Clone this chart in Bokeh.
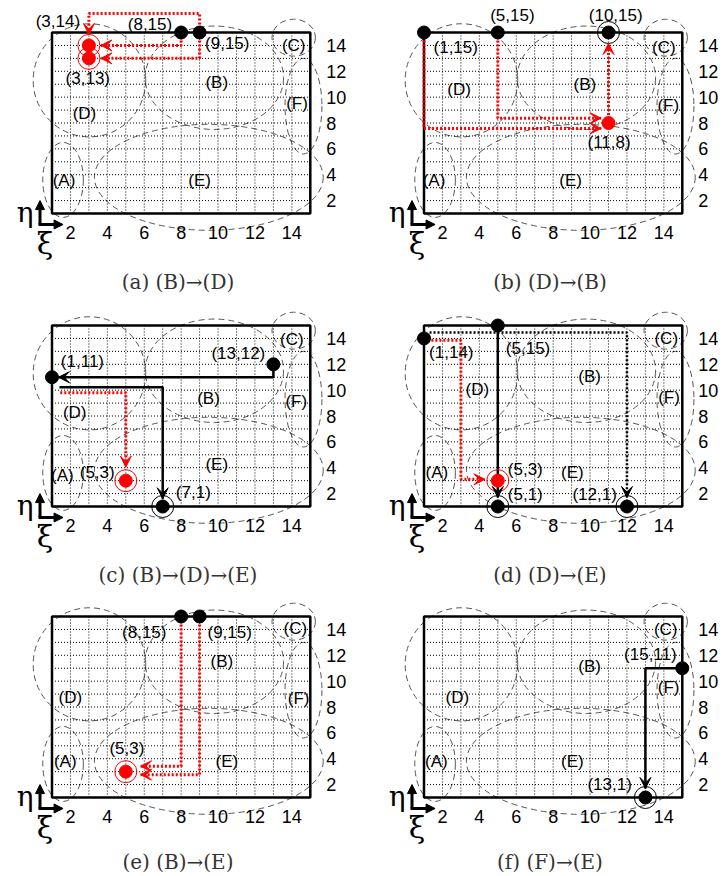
from bokeh.plotting import figure
from bokeh.layouts import column, row
from bokeh.models import Range1d, LinearAxis, FixedTicker, Arrow, VeeHead, NormalHead
from bokeh.core.properties import value
from bokeh.embed import file_html
from bokeh.resources import INLINE

# ---------------- shared data ----------------
BOX = [1, 15]
GRID = list(range(2, 15))
TICKS = [2, 4, 6, 8, 10, 12, 14]

REGION_NAMES = ["(A)", "(B)", "(C)", "(D)", "(E)", "(F)"]
REGION_CX = [1.6, 9.8, 14.1, 3.03, 9.5, 14.63]
REGION_CY = [3.6, 11.5, 14.6, 11.3, 3.8, 9.3]
REGION_W = [2.2, 7.5, 2.35, 6.1, 12.4, 2.0]
REGION_H = [5.8, 8.0, 2.85, 8.75, 8.2, 7.4]

# coordinate indicator (eta up, xi right)
IND_X0 = 0.35
IND_Y0 = 0.15
IND_XEND = 1.6
IND_YEND = 2.0
ETA_X, ETA_Y = -0.45, 1.1
XI_X, XI_Y = 0.62, -1.3

# ---------------- panel (a) ----------------
PA_CAPTION = "(a)  (B)\u2192(D)"
PA_BLACK_X = [8, 9]
PA_BLACK_Y = [15, 15]
PA_BRING_X = []
PA_BRING_Y = []
PA_RED_X = [3, 3]
PA_RED_Y = [14, 13]
PA_RRING_X = [3, 3]
PA_RRING_Y = [14, 13]
PA_LABEL = ["(3,14)", "(8,15)", "(9,15)", "(3,13)"]
PA_LABEL_X = [1.32, 6.31, 10.5, 2.94]
PA_LABEL_Y = [15.85, 15.64, 14.15, 11.48]
PA_REG_X = [1.65, 9.93, 14.1, 2.76, 9.0, 14.28]
PA_REG_Y = [3.57, 11.15, 13.97, 8.76, 3.57, 9.48]
PA_PATH_X = [[9, 9, 3, 3], [8, 8, 3.65], [9, 9, 3.65]]
PA_PATH_Y = [[15, 16.47, 16.47, 14.85], [15, 14, 14], [15, 13, 13]]
PA_PATH_S = ["red", "red", "red"]

# ---------------- panel (b) ----------------
PB_CAPTION = "(b)  (D)\u2192(B)"
PB_BLACK_X = [1, 5, 11]
PB_BLACK_Y = [15, 15, 15]
PB_BRING_X = [11]
PB_BRING_Y = [15]
PB_RED_X = [11]
PB_RED_Y = [8]
PB_RRING_X = []
PB_RRING_Y = []
PB_LABEL = ["(1,15)", "(5,15)", "(10,15)", "(11,8)"]
PB_LABEL_X = [2.72, 5.79, 11.39, 11.03]
PB_LABEL_Y = [13.84, 16.29, 16.29, 6.49]
PB_REG_X = [1.54, 9.72, 14.0, 2.9, 8.95, 14.24]
PB_REG_Y = [3.53, 11.0, 13.84, 10.6, 3.53, 9.33]
PB_PATH_X = [[1, 1, 10.6], [5, 5, 10.6], [11, 11]]
PB_PATH_Y = [[15, 7.58, 7.58], [15, 8.37, 8.37], [8, 14.15]]
PB_PATH_S = ["red", "red", "red"]

# ---------------- panel (c) ----------------
PC_CAPTION = "(c)  (B)\u2192(D)\u2192(E)"
PC_BLACK_X = [13, 1, 7]
PC_BLACK_Y = [12, 11, 1]
PC_BRING_X = [7]
PC_BRING_Y = [1]
PC_RED_X = [5]
PC_RED_Y = [3]
PC_RRING_X = [5]
PC_RRING_Y = [3]
PC_LABEL = ["(1,11)", "(13,12)", "(5,3)", "(7,1)"]
PC_LABEL_X = [2.65, 11.1, 3.45, 8.66]
PC_LABEL_Y = [12.24, 12.86, 3.66, 2.06]
PC_REG_X = [1.56, 9.48, 14.0, 2.23, 9.93, 14.24]
PC_REG_Y = [3.4, 9.38, 13.89, 8.3, 4.22, 9.12]
PC_PATH_X = [[13, 13, 1.35], [1.4, 7, 7], [1.45, 5, 5]]
PC_PATH_Y = [[12, 11, 11], [10.23, 10.23, 1.6], [9.8, 9.8, 4.05]]
PC_PATH_S = ["black", "black", "red"]

# ---------------- panel (d) ----------------
PD_CAPTION = "(d)  (D)\u2192(E)"
PD_BLACK_X = [1, 5, 5, 12]
PD_BLACK_Y = [14, 15, 1, 1]
PD_BRING_X = [5, 12]
PD_BRING_Y = [1, 1]
PD_RED_X = [5]
PD_RED_Y = [3]
PD_RRING_X = [5]
PD_RRING_Y = [3]
PD_LABEL = ["(1,14)", "(5,15)", "(5,3)", "(5,1)", "(12,1)"]
PD_LABEL_X = [2.48, 6.64, 6.49, 6.49, 10.25]
PD_LABEL_Y = [12.89, 13.2, 3.88, 1.9, 1.9]
PD_REG_X = [1.7, 9.98, 14.13, 3.89, 9.04, 14.28]
PD_REG_Y = [3.63, 11.04, 13.97, 10.06, 3.63, 9.42]
PD_PATH_X = [[5, 5], [1.3, 12, 12], [1.4, 3, 3, 4.3]]
PD_PATH_Y = [[15, 1.7], [14.45, 14.45, 1.7], [13.85, 13.85, 3.1, 3.1]]
PD_PATH_S = ["black", "blackdot", "red"]

# ---------------- panel (e) ----------------
PE_CAPTION = "(e)  (B)\u2192(E)"
PE_BLACK_X = [8, 9]
PE_BLACK_Y = [15, 15]
PE_BRING_X = []
PE_BRING_Y = []
PE_RED_X = [5]
PE_RED_Y = [3]
PE_RRING_X = [5]
PE_RRING_Y = [3]
PE_LABEL = ["(8,15)", "(9,15)", "(5,3)"]
PE_LABEL_X = [6.0, 10.63, 5.06]
PE_LABEL_Y = [13.77, 13.77, 4.78]
PE_REG_X = [1.72, 10.21, 14.19, 1.99, 10.48, 14.37]
PE_REG_Y = [3.75, 11.53, 14.08, 8.76, 3.75, 8.63]
PE_PATH_X = [[8, 8, 5.8], [9, 9, 5.8]]
PE_PATH_Y = [[15, 3.42, 3.42], [15, 2.77, 2.77]]
PE_PATH_S = ["red", "red"]

# ---------------- panel (f) ----------------
PF_CAPTION = "(f)  (F)\u2192(E)"
PF_BLACK_X = [15, 13]
PF_BLACK_Y = [11, 1]
PF_BRING_X = [13]
PF_BRING_Y = [1]
PF_RED_X = []
PF_RED_Y = []
PF_RRING_X = []
PF_RRING_Y = []
PF_LABEL = ["(15,11)", "(13,1)"]
PF_LABEL_X = [13.27, 11.06]
PF_LABEL_Y = [12.04, 2.03]
PF_REG_X = [1.67, 9.98, 14.1, 2.81, 9.04, 14.26]
PF_REG_Y = [3.75, 11.17, 14.0, 8.77, 3.75, 9.54]
PF_PATH_X = [[15, 13, 13]]
PF_PATH_Y = [[11, 11, 1.7]]
PF_PATH_S = ["black"]

# ---------------- layout constants ----------------
XS = 18.45          # px per unit (x)
YS = 12.93          # px per unit (y)
FIG_W = [362, 362]  # left / right column widths
BOX_LEFT_PX = [51.5, 61.5]
ROW_H = [293, 293, 290]
BOX_TOP_PX = [32, 32, 30]
CAP_OFFSET_PX = [68, 68, 64]
XAXIS_AT = 0.0      # y location of the tick-label row
YAXIS_AT = 15.65    # x location of the tick-label column
CAP_X = 8

RED = "#ff0000"
STYLE = {
    "red": dict(line_color=RED, line_width=3, line_dash="2 2"),
    "black": dict(line_color="black", line_width=2.5, line_dash="solid"),
    "blackdot": dict(line_color="black", line_width=2.5, line_dash="2 2"),
}
HEAD_COLOR = {"red": RED, "black": "black", "blackdot": "black"}

SANS = "Liberation Sans"
SERIF = "DejaVu Serif"


def make_panel(d, col, row_idx):
    w = FIG_W[col]
    h = ROW_H[row_idx]
    xmin = BOX[0] - BOX_LEFT_PX[col] / XS
    xmax = xmin + w / XS
    ymax = BOX[1] + BOX_TOP_PX[row_idx] / YS
    ymin = ymax - h / YS
    cap_y = BOX[0] - CAP_OFFSET_PX[row_idx] / YS
    p = figure(frame_width=w, frame_height=h,
               x_range=Range1d(xmin, xmax), y_range=Range1d(ymin, ymax),
               x_axis_location=None, y_axis_location=None,
               toolbar_location=None, output_backend="svg",
               min_border=0, min_border_left=0, min_border_right=0,
               min_border_top=0, min_border_bottom=0)
    p.outline_line_color = None
    p.border_fill_color = "white"
    p.grid.visible = False

    # regions
    p.ellipse(x=REGION_CX, y=REGION_CY, width=REGION_W, height=REGION_H,
              fill_color=None, line_color="#555555", line_width=1, line_dash="6 4")

    # dotted grid inside box
    n = len(GRID)
    p.segment(x0=GRID, y0=[BOX[0]] * n, x1=GRID, y1=[BOX[1]] * n,
              line_color="black", line_width=1, line_dash="1 2")
    p.segment(x0=[BOX[0]] * n, y0=GRID, x1=[BOX[1]] * n, y1=GRID,
              line_color="black", line_width=1, line_dash="1 2")
    p.quad(left=[BOX[0]], right=[BOX[1]], bottom=[BOX[0]], top=[BOX[1]],
           fill_color=None, line_color="black", line_width=2.5)

    # region labels
    p.text(x=d["reg_x"], y=d["reg_y"], text=REGION_NAMES,
           text_font=value(SANS), text_font_size="17px",
           text_align="center", text_baseline="middle", text_color="black")

    # paths
    for style in ["red", "black", "blackdot"]:
        xs = [px for px, s in zip(d["path_x"], d["path_s"]) if s == style]
        ys = [py for py, s in zip(d["path_y"], d["path_s"]) if s == style]
        if xs:
            p.multi_line(xs=xs, ys=ys, **STYLE[style])
    for px, py, s in zip(d["path_x"], d["path_y"], d["path_s"]):
        c = HEAD_COLOR[s]
        p.add_layout(Arrow(end=VeeHead(size=11, fill_color=c, line_color=c),
                           x_start=px[-2], y_start=py[-2], x_end=px[-1], y_end=py[-1],
                           line_alpha=0))

    # rings and dots
    if d["bring_x"]:
        p.scatter(x=d["bring_x"], y=d["bring_y"], size=22, fill_color=None,
                  line_color="black", line_width=1)
    if d["rring_x"]:
        p.scatter(x=d["rring_x"], y=d["rring_y"], size=22, fill_color=None,
                  line_color=RED, line_width=1)
    if d["black_x"]:
        p.scatter(x=d["black_x"], y=d["black_y"], size=13, fill_color="black",
                  line_color="black")
    if d["red_x"]:
        p.scatter(x=d["red_x"], y=d["red_y"], size=13, fill_color=RED,
                  line_color=RED)

    # point labels
    p.text(x=d["lab_x"], y=d["lab_y"], text=d["lab"],
           text_font=value(SANS), text_font_size="17px",
           text_align="center", text_baseline="middle", text_color="black")

    # coordinate indicator
    p.add_layout(Arrow(end=NormalHead(size=9, fill_color="black", line_color="black"),
                       x_start=IND_X0, y_start=IND_Y0, x_end=IND_X0, y_end=IND_YEND,
                       line_width=3))
    p.add_layout(Arrow(end=NormalHead(size=9, fill_color="black", line_color="black"),
                       x_start=IND_X0 - 0.08, y_start=IND_Y0, x_end=IND_XEND, y_end=IND_Y0,
                       line_width=3))
    p.text(x=[ETA_X], y=[ETA_Y], text=["\u03b7"], text_font=value(SERIF),
           text_font_size="28px", text_align="center", text_baseline="middle")
    p.text(x=[XI_X], y=[XI_Y], text=["\u03be"], text_font=value(SERIF),
           text_font_size="30px", text_align="center", text_baseline="middle")

    # axes (tick labels only), pinned at fixed data locations
    yax = LinearAxis(ticker=FixedTicker(ticks=TICKS), fixed_location=YAXIS_AT)
    xax = LinearAxis(ticker=FixedTicker(ticks=TICKS), fixed_location=XAXIS_AT)
    for ax in (xax, yax):
        ax.axis_line_color = None
        ax.major_tick_line_color = None
        ax.minor_tick_line_color = None
        ax.major_tick_out = 0
        ax.major_tick_in = 0
        ax.major_label_text_font = SANS
        ax.major_label_text_font_size = "18px"
        ax.major_label_text_color = "black"
    yax.major_label_standoff = 4
    xax.major_label_standoff = 0
    p.add_layout(yax, "right")
    p.add_layout(xax, "below")

    # caption
    p.text(x=[CAP_X], y=[cap_y], text=[d["caption"]], text_font=value(SERIF),
           text_font_size="20px", text_color="#333333",
           text_align="center", text_baseline="alphabetic")
    return p


def pack(prefix):
    g = globals()
    return dict(
        caption=g[prefix + "_CAPTION"],
        black_x=g[prefix + "_BLACK_X"], black_y=g[prefix + "_BLACK_Y"],
        bring_x=g[prefix + "_BRING_X"], bring_y=g[prefix + "_BRING_Y"],
        red_x=g[prefix + "_RED_X"], red_y=g[prefix + "_RED_Y"],
        rring_x=g[prefix + "_RRING_X"], rring_y=g[prefix + "_RRING_Y"],
        lab=g[prefix + "_LABEL"], lab_x=g[prefix + "_LABEL_X"], lab_y=g[prefix + "_LABEL_Y"],
        reg_x=g[prefix + "_REG_X"], reg_y=g[prefix + "_REG_Y"],
        path_x=g[prefix + "_PATH_X"], path_y=g[prefix + "_PATH_Y"], path_s=g[prefix + "_PATH_S"],
    )


pa = make_panel(pack("PA"), 0, 0)
pb = make_panel(pack("PB"), 1, 0)
pc = make_panel(pack("PC"), 0, 1)
pd = make_panel(pack("PD"), 1, 1)
pe = make_panel(pack("PE"), 0, 2)
pf = make_panel(pack("PF"), 1, 2)

layout = column(row(pa, pb), row(pc, pd), row(pe, pf))
open("out.html", "w").write(file_html(layout, INLINE))
